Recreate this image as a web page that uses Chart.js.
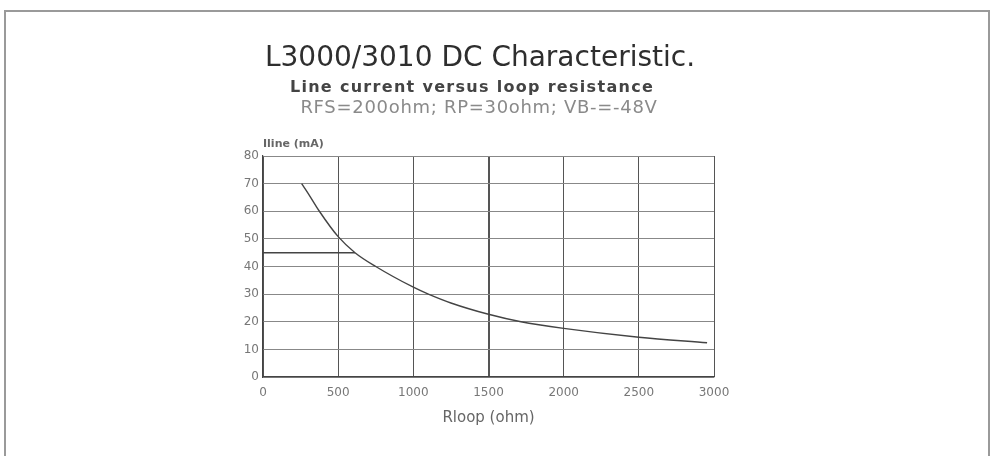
<!DOCTYPE html>
<html>
<head>
<meta charset="utf-8">
<script src="https://cdn.jsdelivr.net/npm/chart.js@4"></script>
<style>
  html, body { margin: 0; padding: 0; background: #fff; }
  #wrap { width: 994px; height: 456px; position: relative; }
</style>
</head>
<body>
<div id="wrap"><canvas id="c" width="994" height="456"></canvas></div>
<script>
// ---- data ----
const resistanceOhm = [257, 300, 375, 500, 612, 750, 1000, 1100, 1250, 1500, 1716, 2000, 2500, 2954];
const lineCurrentMA = [70, 66.5, 60, 50.8, 45, 40, 32.5, 30, 26.8, 22.7, 20, 17.6, 14.4, 12.4];
const limitX = [0, 612];
const limitY = [45, 45];
const xTicks = [0, 500, 1000, 1500, 2000, 2500, 3000];
const yTicks = [0, 10, 20, 30, 40, 50, 60, 70, 80];
const titleText = "L3000/3010 DC Characteristic.";
const subtitleText = "Line current versus loop resistance";
const conditionsText = "RFS=200ohm; RP=30ohm; VB-=-48V";
const yAxisLabel = "Iline (mA)";
const xAxisLabel = "Rloop (ohm)";

const curve = resistanceOhm.map((x, i) => ({ x, y: lineCurrentMA[i] }));
const limitLine = limitX.map((x, i) => ({ x, y: limitY[i] }));

const FONT = "'DejaVu Sans', Verdana, sans-serif";

function spaced(ctx, px) {
  if ('letterSpacing' in ctx) ctx.letterSpacing = px + 'px';
}

const decorPlugin = {
  id: 'decor',
  beforeDraw(chart) {
    const ctx = chart.ctx;
    ctx.save();
    ctx.fillStyle = '#ffffff';
    ctx.fillRect(0, 0, chart.width, chart.height);
    ctx.strokeStyle = '#9a9a9a';
    ctx.lineWidth = 2;
    ctx.strokeRect(5, 11, 984, chart.height + 20);
    ctx.restore();
  },
  afterDraw(chart) {
    const ctx = chart.ctx;
    const a = chart.chartArea;
    ctx.save();
    ctx.textAlign = 'center';
    ctx.textBaseline = 'alphabetic';
    ctx.fillStyle = '#2e2e2e';
    ctx.font = "28px " + FONT;
    spaced(ctx, 0);
    ctx.fillText(titleText, 480, 66);
    ctx.fillStyle = '#444';
    ctx.font = "bold 16px " + FONT;
    spaced(ctx, 1.3);
    ctx.fillText(subtitleText, 472, 92);
    ctx.fillStyle = '#8a8a8a';
    ctx.font = "18px " + FONT;
    spaced(ctx, 0.7);
    ctx.fillText(conditionsText, 479, 113);
    ctx.textAlign = 'left';
    ctx.textBaseline = 'middle';
    ctx.fillStyle = '#666';
    ctx.font = "bold 11px " + FONT;
    spaced(ctx, 0);
    ctx.fillText(yAxisLabel, a.left, a.top - 12);
    ctx.restore();
  }
};

new Chart(document.getElementById('c'), {
  type: 'line',
  data: {
    datasets: [
      {
        data: curve,
        borderColor: '#444',
        borderWidth: 1.4,
        pointRadius: 0,
        fill: false,
        cubicInterpolationMode: 'monotone'
      },
      {
        data: limitLine,
        borderColor: '#444',
        borderWidth: 1.4,
        pointRadius: 0,
        fill: false,
        tension: 0
      }
    ]
  },
  options: {
    responsive: false,
    animation: false,
    layout: { padding: { top: 156, right: 280, bottom: 29, left: 0 } },
    plugins: {
      legend: { display: false },
      tooltip: { enabled: false },
      title: { display: false }
    },
    scales: {
      x: {
        type: 'linear',
        min: 0,
        max: 3000,
        afterBuildTicks(scale) { scale.ticks = xTicks.map(v => ({ value: v })); },
        afterFit(scale) { scale.height = 50; },
        grid: {
          color: '#555',
          lineWidth: ctx => (ctx.tick && ctx.tick.value === 1500 ? 2 : 1),
          drawTicks: false
        },
        border: { color: '#444', width: 1.2 },
        ticks: {
          padding: 9,
          color: '#777',
          font: { family: FONT, size: 12 },
          callback: v => String(v)
        },
        title: {
          display: true,
          text: xAxisLabel,
          color: '#666',
          font: { family: FONT, size: 15 },
          padding: { top: 4, bottom: 0 }
        }
      },
      y: {
        type: 'linear',
        min: 0,
        max: 80,
        afterBuildTicks(scale) { scale.ticks = yTicks.map(v => ({ value: v })); },
        afterFit(scale) { scale.width = 263; },
        grid: {
          color: '#888',
          lineWidth: 1,
          drawTicks: false
        },
        border: { color: '#444', width: 1.2 },
        ticks: {
          padding: 4,
          color: '#777',
          font: { family: FONT, size: 12 },
          callback: v => String(v)
        }
      }
    }
  },
  plugins: [decorPlugin]
});
</script>
</body>
</html>
